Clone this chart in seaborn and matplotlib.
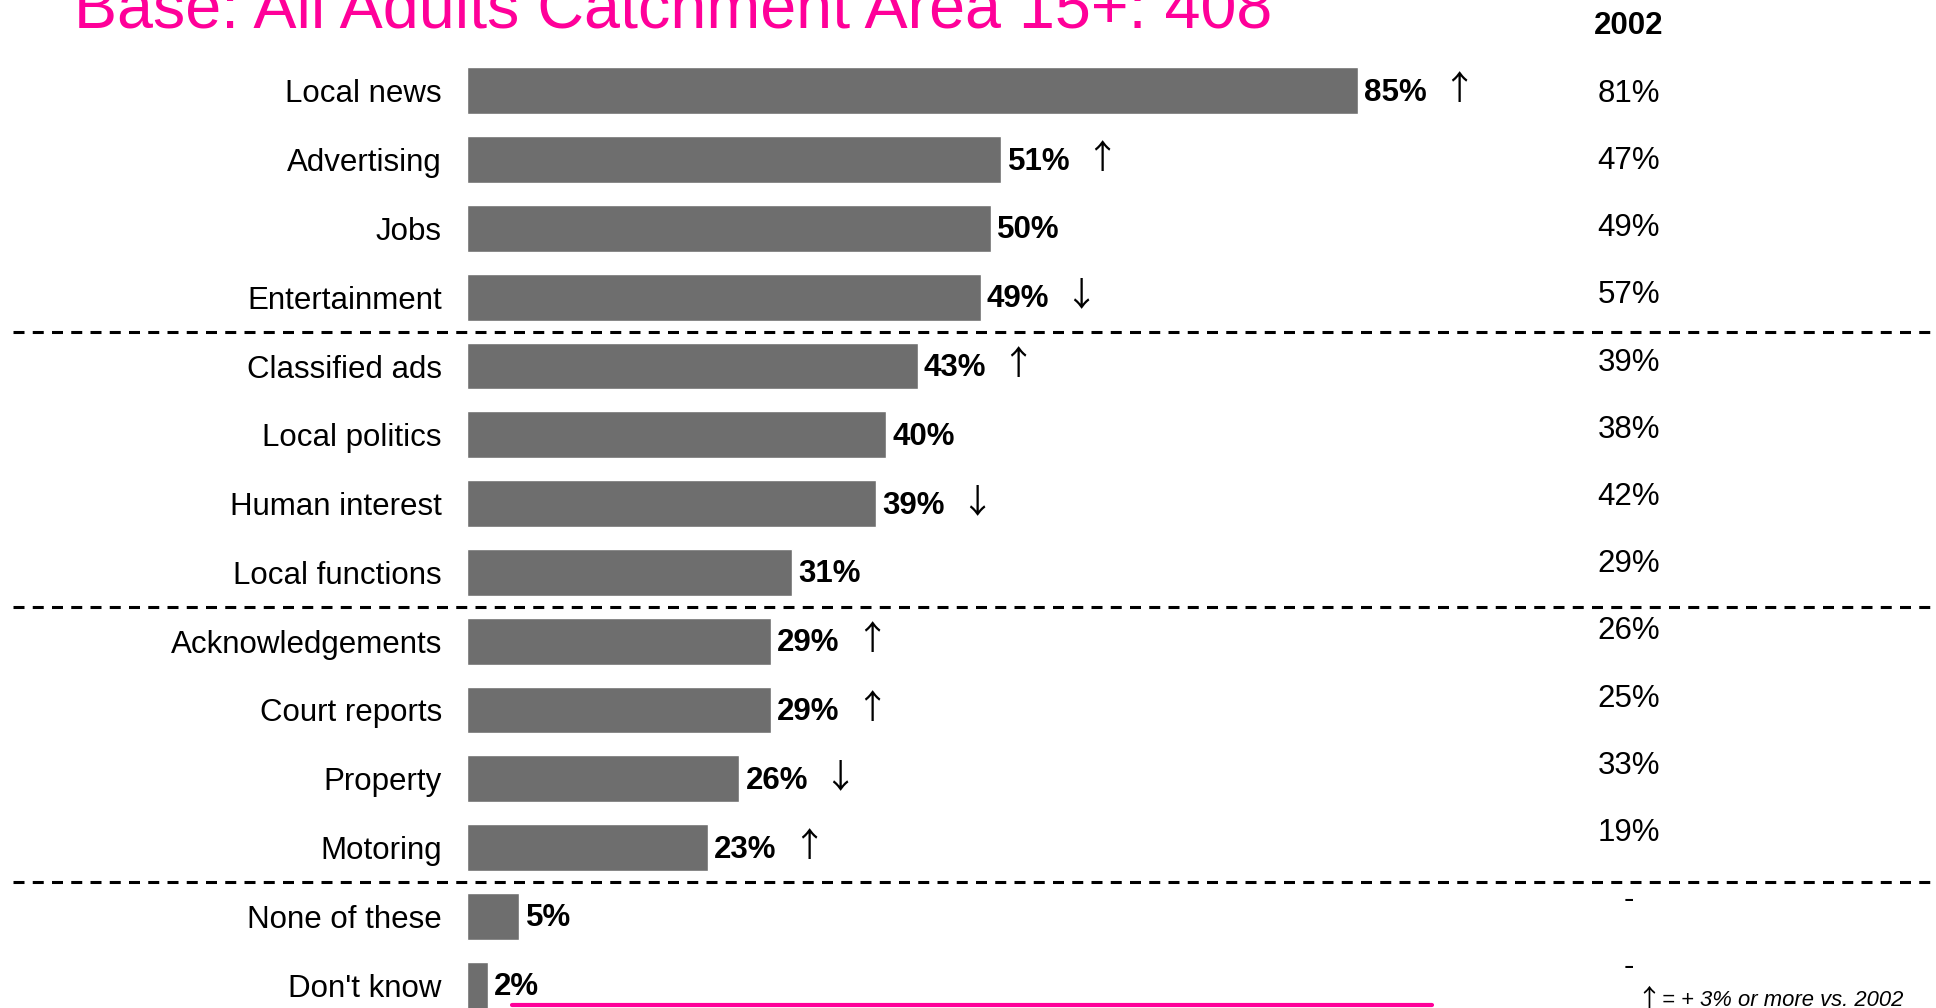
import matplotlib
matplotlib.use("Agg")
import matplotlib.pyplot as plt
from matplotlib.lines import Line2D
import seaborn as sns
import pandas as pd

# Survey results: share of readers interested in each topic
categories = ["Local news", "Advertising", "Jobs", "Entertainment",
              "Classified ads", "Local politics", "Human interest", "Local functions",
              "Acknowledgements", "Court reports", "Property", "Motoring",
              "None of these", "Don't know"]
current = [85, 51, 50, 49, 43, 40, 39, 31, 29, 29, 26, 23, 5, 2]
previous_2002 = ["81%", "47%", "49%", "57%", "39%", "38%", "42%", "29%",
                 "26%", "25%", "33%", "19%", "-", "-"]
# +1 = up 3 points or more vs 2002, -1 = down, 0 = no significant change
change = [1, 1, 0, -1, 1, 0, -1, 0, 1, 1, -1, 1, 0, 0]
group_breaks = [3.5, 7.5, 11.5]

title = "Base: All Adults Catchment Area 15+: 408"
prev_header = "2002"
key_arrow = "\u2191"
key_text = "= + 3% or more vs. 2002"

sns.set_theme(style="white")
plt.rcParams["font.family"] = ["Liberation Sans", "DejaVu Sans"]

W, H = 1936, 1008
fig = plt.figure(figsize=(W / 100, H / 100), dpi=100)
fig.patch.set_facecolor("white")

left_px = 467
px_per_unit = 10.48
row0_px, row_px = 90.8, 68.8

ax = fig.add_axes([left_px / W, 0, 1 - left_px / W, 1])
df = pd.DataFrame({"topic": categories, "pct": current})
sns.barplot(data=df, x="pct", y="topic", orient="h", color="#6E6E6E",
            saturation=1, width=0.68, ax=ax)

ax.set_xlim(0, (W - left_px) / px_per_unit)
ax.set_ylim((H - row0_px) / row_px, -row0_px / row_px)
for s in ax.spines.values():
    s.set_visible(False)
ax.set_xticks([])
ax.set_xlabel("")
ax.set_ylabel("")
ax.tick_params(axis="y", length=0, pad=18, labelsize=22.5, labelcolor="black")
ax.set_facecolor("none")

fs = 22.5
arrow_font = ["Noto Sans CJK SC", "DejaVu Sans"]
for i, (v, c) in enumerate(zip(current, change)):
    ax.text(v + 0.6, i + 0.03, f"{v}%", va="center", ha="left", fontsize=fs,
            fontweight="bold", color="black")
    if c != 0:
        ax.text(v + 9.6, i - 0.02, "\u2191" if c > 0 else "\u2193", va="center",
                ha="center", fontsize=24, color="black", family=arrow_font)

# Previous-wave column
col_x = (1629 - left_px) / px_per_unit
ax.text(col_x, (26 - row0_px) / row_px, prev_header, ha="center",
        va="center", fontsize=fs, fontweight="bold", color="black")
step_prev = 67.2 / row_px
for i, p in enumerate(previous_2002):
    ax.text(col_x, i * step_prev + 0.045, p, ha="center", va="center",
            fontsize=fs, color="black")

# Dashed group separators across the full width
for yb in group_breaks:
    ax.axhline(yb, xmin=(13 - left_px) / (W - left_px), xmax=1.0,
               color="black", lw=2.2, ls=(0, (3.6, 2.7)), clip_on=False)

# Title (partly above the canvas)
fig.text(74 / W, 1 - 27 / H, title, ha="left", va="baseline",
         fontsize=46.5, color="#FF0099")

# Key for the arrows
key_y = (1000 - row0_px) / row_px
ax.text((1636 - left_px) / px_per_unit, key_y, key_arrow, ha="left",
        va="center", fontsize=18, color="black", family=arrow_font)
ax.text((1662 - left_px) / px_per_unit, key_y, key_text, ha="left",
        va="center", fontsize=15.8, style="italic", color="black")

# Magenta rule at the foot
fig.add_artist(Line2D([512 / W, 1432 / W], [1 - 1005 / H, 1 - 1005 / H],
                      color="#FF0099", lw=3.0, transform=fig.transFigure))

fig.savefig("out.png", dpi=100, facecolor="white")
